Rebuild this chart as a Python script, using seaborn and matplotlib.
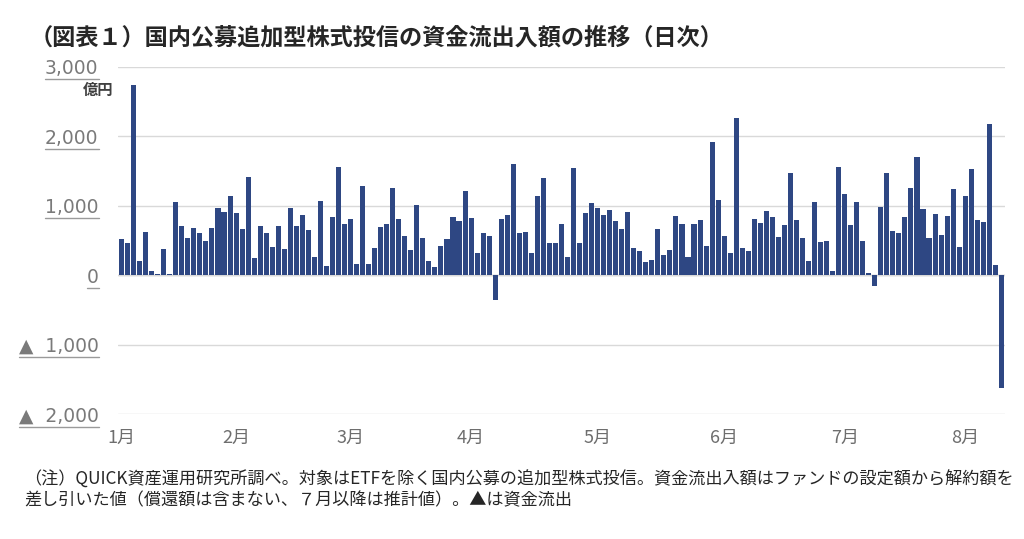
import matplotlib
matplotlib.use("Agg")
import matplotlib.pyplot as plt
from matplotlib.lines import Line2D
import seaborn as sns
import pandas as pd
import numpy as np

# ---- data (億円, daily net flows) ----
flows = [
    517, 469, 2742, 201, 627, 62, 24, 373, 14, 1053, 703, 541, 684, 603, 498,
    684, 971, 904, 1139, 900, 665, 1421, 254, 703, 603, 411, 703, 383, 967,
    708, 871, 646, 263, 1067, 129, 837, 1555, 737, 809, 158, 1287, 158, 388,
    694, 737, 1258, 809, 569, 368, 1005, 541, 206, 115, 426, 522, 837, 780,
    1220, 818, 325,
    603, 560, -360, 809, 866, 1598, 603, 627, 316, 1139, 1407, 459, 459, 742,
    258, 1545, 459, 895, 1038, 967, 866, 938, 780, 665, 909, 388, 344, 187,
    215, 665,
    287, 359, 852, 737, 268, 737, 789, 426, 1923, 1077, 565, 316, 2258, 397,
    344, 809, 751, 923, 837, 555, 722, 1469, 789, 536, 201, 1048, 483, 498,
    62, 1555,
    1163, 727, 1057, 488, 33, -158, 981, 1469, 641, 612, 837, 1263, 1699, 947,
    536, 880, 584, 856, 1239, 411, 1139, 1531, 789, 766, 2177, 144, -1627,
]
month_labels = ["1月", "2月", "3月", "4月", "5月", "6月", "7月", "8月"]
month_pos = [0, 19, 38, 58, 79, 100, 120, 140]
y_ticks = [3000, 2000, 1000, 0, -1000, -2000]
y_tick_labels = ["3,000", "2,000", "1,000", "0", "▲  1,000", "▲  2,000"]

title = "（図表１）国内公募追加型株式投信の資金流出入額の推移（日次）"
note1 = "（注）QUICK資産運用研究所調べ。対象はETFを除く国内公募の追加型株式投信。資金流出入額はファンドの設定額から解約額を"
note2 = "差し引いた値（償還額は含まない、７月以降は推計値）。▲は資金流出"
unit = "億円"

sns.set_theme(style="white")
plt.rcParams["font.family"] = ["Noto Sans CJK JP", "DejaVu Sans"]

df = pd.DataFrame({"day": np.arange(len(flows)), "flow": flows})

fig = plt.figure(figsize=(10.24, 5.39), dpi=100)
ax = fig.add_axes([0.1152, 0.2319, 0.8662, 0.6438])

sns.barplot(data=df, x="day", y="flow", color="#2E4783", saturation=1,
            width=0.84, linewidth=0, ax=ax)

ax.set_xlim(-0.6, len(flows) - 0.4)
ax.set_ylim(-2000, 3000)
ax.set_yticks(y_ticks)
ax.set_yticklabels(y_tick_labels, fontsize=13.5, color="#7a7a7a",
                   family=["DejaVu Sans"])
ax.set_xticks(month_pos)
ax.set_xticklabels(month_labels, fontsize=13, color="#6e6e6e")
ax.tick_params(axis="y", length=0, pad=14)
ax.tick_params(axis="x", length=0, pad=11)
ax.set_xlabel("")
ax.set_ylabel("")
for s in ax.spines.values():
    s.set_visible(False)
ax.yaxis.grid(True, color="#d9d9d9", linewidth=1.0)
ax.set_axisbelow(True)
ax.axhline(0, color="#bfbfbf", linewidth=1.0, zorder=0)

fig.text(0.0285, 0.929, title, fontsize=16.7, fontweight="bold",
         color="#262626", ha="left", va="center")
fig.text(0.111, 0.833, unit, fontsize=11, fontweight="bold",
         color="#404040", ha="right", va="center")
fig.text(0.024, 0.111, note1, fontsize=12.35, color="#262626",
         ha="left", va="center")
fig.text(0.024, 0.072, note2, fontsize=12.35, color="#262626",
         ha="left", va="center")

# underline the y tick labels as in the reference
fig.canvas.draw()
r = fig.canvas.get_renderer()
for lab in ax.get_yticklabels():
    bb = lab.get_window_extent(r)
    y = bb.y0 - 1
    fig.add_artist(Line2D([bb.x0 / fig.bbox.width, bb.x1 / fig.bbox.width],
                          [y / fig.bbox.height, y / fig.bbox.height],
                          transform=fig.transFigure, color="#9a9a9a",
                          linewidth=1.0))

fig.savefig("out.png", dpi=100)
